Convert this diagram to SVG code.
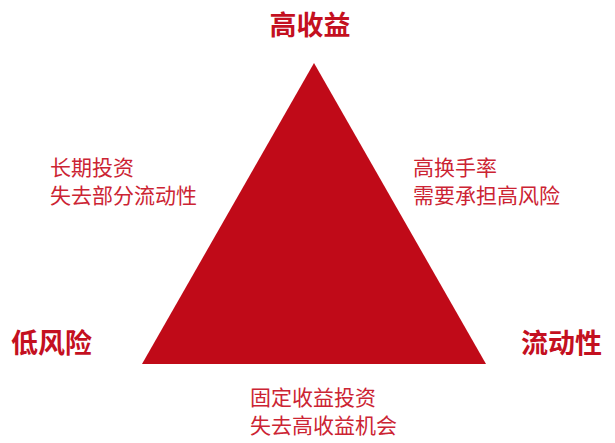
<svg xmlns="http://www.w3.org/2000/svg" width="615" height="443" viewBox="0 0 615 443">
<style>
text{font-family:"Noto Sans CJK SC","Noto Sans CJK JP",sans-serif}
.t{font-size:27px;font-weight:bold;fill:#c4101f}
.b{font-size:21px;fill:#cc2433}
</style>
<rect width="615" height="443" fill="#ffffff"/>
<g id="triangle"><polygon points="314,63 486,364 142,364" fill="#c00a18"/></g>
<g id="connectors"></g>
<g id="high-return"><text class="t" x="310" y="35" text-anchor="middle">高收益</text></g>
<g id="low-risk"><text class="t" x="11" y="353">低风险</text></g>
<g id="liquidity"><text class="t" x="521" y="353">流动性</text></g>
<g id="left-note"><text class="b" x="50" y="175">长期投资</text><text class="b" x="50" y="203">失去部分流动性</text></g>
<g id="right-note"><text class="b" x="413" y="175">高换手率</text><text class="b" x="413" y="203">需要承担高风险</text></g>
<g id="bottom-note"><text class="b" x="250" y="405">固定收益投资</text><text class="b" x="250" y="433">失去高收益机会</text></g>
</svg>
